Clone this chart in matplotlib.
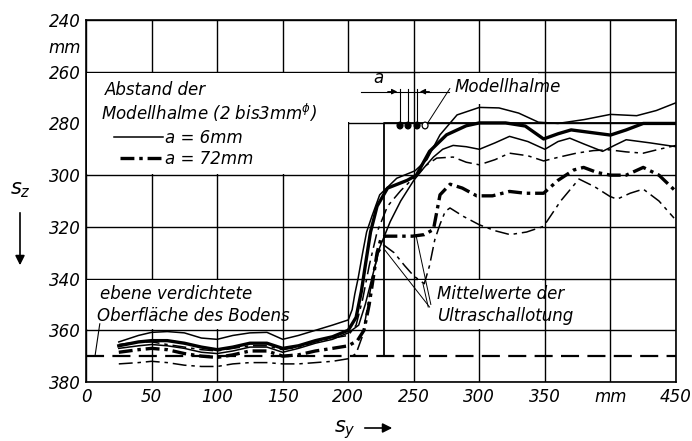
import matplotlib.pyplot as plt
from matplotlib.patches import Rectangle, Ellipse

plt.rcParams['font.family'] = ['DejaVu Sans']
plt.rcParams['font.style'] = 'italic'
plt.rcParams['lines.scale_dashes'] = False

# ---- data (mm) ----
x_ticks = [0, 50, 100, 150, 200, 250, 300, 350, 400, 450]
x_tick_labels = ['0', '50', '100', '150', '200', '250', '300', '350', 'mm', '450']
y_ticks = [240, 260, 280, 300, 320, 340, 360, 380]

# a = 6 mm, thin solid (top)
c1_x = [25, 40, 50, 62, 75, 88, 100, 112, 125, 138, 150, 162, 175, 188, 200, 203, 205, 207.5, 211, 214,
        218, 224, 237, 251, 260, 270, 283, 300, 315, 330, 345, 360, 380, 400, 420, 435, 450]
c1_y = [364.5, 362, 360.8, 360.5, 361, 363, 363.5, 362, 361, 360.8, 363.5, 362, 360, 358, 356, 352, 346, 340, 330, 322,
        316, 307.6, 301.2, 298.3, 294, 284.4, 276.7, 273.8, 274, 276, 279.5, 280, 278.5, 276.5, 277, 275, 272]

# thick solid
c2_x = [25, 40, 50, 62, 75, 88, 100, 112, 125, 138, 150, 162, 175, 188, 200, 206, 210, 213, 217, 222,
        230, 245, 252, 262, 275, 290, 300, 320, 335, 349, 360, 370, 385, 400, 412, 425, 450]
c2_y = [366, 364.5, 364, 364, 365, 366.5, 367.5, 366.5, 365, 365, 367, 366, 364, 362.5, 360, 355, 345, 335, 322, 312,
        305, 302, 300, 290.8, 284.4, 280.9, 279.8, 279.8, 281, 286, 284, 282.5, 283.5, 284.5, 282.5, 280, 280]

# thin solid
c3_x = [25, 40, 50, 62, 75, 88, 100, 112, 125, 138, 150, 162, 175, 188, 200, 208, 213, 218, 224, 232,
        240, 250, 258, 265, 272, 280, 290, 300, 312, 323, 337, 350, 360, 369, 380, 394, 403, 412, 430, 450]
c3_y = [367, 366, 365.5, 366, 367, 368.5, 369, 368, 366.5, 366.5, 368.5, 367, 365, 363.5, 361, 358, 350, 340, 328, 318,
        310, 302, 297, 293, 290, 288.5, 289, 290, 287.5, 285, 287, 290, 287, 285.7, 288, 290.8, 288.5, 286.3, 287.5, 289]

# thin dash-dot
c4_x = [25, 40, 50, 62, 75, 88, 100, 112, 125, 138, 150, 162, 175, 188, 200, 206, 211, 216, 222, 230,
        240, 252, 260, 267.5, 280, 290, 300, 312, 323, 337, 349, 361, 374, 387, 399, 412, 425, 437, 450]
c4_y = [365.5, 364.5, 364.5, 365.5, 366.5, 367.5, 368, 367, 366, 366, 367.5, 366.5, 364.5, 363, 362, 358, 348, 335, 322, 312,
        306, 300, 296, 293.4, 293, 295, 296, 294, 291.5, 292.5, 294.5, 293, 291.5, 290.5, 290.2, 291, 291.5, 290, 288.5]

# a = 72 mm, thick dash-dot
c5_x = [25, 40, 50, 62, 75, 88, 100, 112, 125, 138, 150, 162, 175, 188, 200, 207, 212, 216, 219, 222, 225,
        228, 249, 258, 265, 270, 277.7, 287, 298, 310, 323, 335, 349, 360, 372, 379.5, 390, 400, 412, 425, 437, 448.5]
c5_y = [368.5, 367.5, 367, 367.5, 369, 370, 370.5, 369.5, 368, 368, 370, 369.5, 368, 367, 366, 364, 360, 350, 340, 330, 324.5,
        323.6, 323.6, 323, 321, 307.6, 303.5, 305, 308, 308, 306.3, 307, 307, 302, 298, 297, 299, 300, 300, 297, 300, 305.6]

# thin dash-dot (bottom)
c6_x = [25, 40, 50, 62, 75, 88, 100, 112, 125, 138, 150, 162, 175, 188, 200, 206, 211, 215, 219, 223, 227,
        235, 243, 250, 258, 262, 266, 270, 274, 277.6, 288, 300, 312, 323.4, 336, 349, 362, 376, 388, 399.5,
        405, 415, 425, 437, 448.5]
c6_y = [373, 372.5, 372, 372.5, 373.5, 374, 374, 373, 372.5, 372.5, 373, 373, 372.5, 372, 371, 369, 362, 350, 338, 330, 327,
        330, 335, 339, 342, 335, 325, 319, 314, 312.7, 316, 319.2, 321.5, 323, 322, 319.8, 310, 301.5, 304.5, 308.2,
        309.3, 307, 305.4, 310, 316.6]

soil_level = 370
step_x = 227
stalk_top = 280
stalk_x = [239.5, 245.6, 252.5, 258.6]

thin = 1.1
thick = 2.4
dashdot = (0, (10, 3.5, 2.5, 3.5))

fig = plt.figure(figsize=(6.92, 4.41), dpi=100)
ax = fig.add_axes([0.1243, 0.1338, 0.8526, 0.8208])
ax.set_xlim(0, 450)
ax.set_ylim(380, 240)

ax.set_xticks(x_ticks)
ax.set_xticklabels(x_tick_labels)
ax.set_yticks(y_ticks)
ax.set_yticks([250], minor=True)
ax.set_yticklabels(['mm'], minor=True)
ax.tick_params(which='both', length=0, labelsize=12, pad=4)
ax.grid(True, which='major', color='black', lw=1.0, zorder=0.5)
ax.set_axisbelow(True)
for s in ax.spines.values():
    s.set_linewidth(1.2)

# white areas behind the labels (grid left out there)
for (x0, y0, w, h) in [(1, 260.6, 198.5, 38.8), (199, 260.6, 2, 19), (1, 340.6, 148.5, 18.8),
                       (253, 340.6, 95, 18.8), (255, 260.6, 90, 12)]:
    ax.add_patch(Rectangle((x0, y0), w, h, facecolor='white', edgecolor='none', zorder=0.8))

# curves
ax.plot(c1_x, c1_y, color='black', lw=thin, zorder=2)
ax.plot(c2_x, c2_y, color='black', lw=thick, zorder=2)
ax.plot(c3_x, c3_y, color='black', lw=thin, zorder=2)
ax.plot(c4_x, c4_y, color='black', lw=thin, ls=dashdot, zorder=2)
ax.plot(c5_x, c5_y, color='black', lw=thick, ls=dashdot, zorder=2)
ax.plot(c6_x, c6_y, color='black', lw=thin, ls=dashdot, zorder=2)

# soil surface and model step
ax.plot([0, 450], [soil_level, soil_level], color='black', lw=1.6, ls=(0, (13, 6)), zorder=2)
ax.plot([step_x, step_x, 450], [soil_level, stalk_top, stalk_top], color='black', lw=1.3, zorder=2)

# model stalks
for i, sx in enumerate(stalk_x):
    ax.add_patch(Ellipse((sx, stalk_top + 0.8), 4.5, 2.6, facecolor='black' if i < 3 else 'white',
                         edgecolor='black', lw=0.9, zorder=3))
for sx in stalk_x[:3]:
    ax.plot([sx, sx], [266.5, stalk_top], color='black', lw=0.8, zorder=2)
ax.plot([210, 277], [267.7, 267.7], color='black', lw=0.8)
ax.annotate('', xy=(239.5, 267.7), xytext=(228, 267.7),
            arrowprops=dict(arrowstyle='-|>', color='black', lw=0.8, mutation_scale=8))
ax.annotate('', xy=(252.5, 267.7), xytext=(264, 267.7),
            arrowprops=dict(arrowstyle='-|>', color='black', lw=0.8, mutation_scale=8))
ax.text(223, 266, 'a', fontsize=12, ha='center', va='bottom')
ax.plot([277.5, 261], [266.5, 279.5], color='black', lw=0.7)
ax.text(281, 268, 'Modellhalme', fontsize=12, va='baseline')

# legend block
ax.text(14.5, 269, 'Abstand der', fontsize=12, va='baseline')
ax.text(11.5, 278.6, r'Modellhalme (2 bis3mm$^{\phi}$)', fontsize=12, va='baseline')
ax.plot([21, 59], [285.2, 285.2], color='black', lw=thin)
ax.text(60, 287.5, 'a = 6mm', fontsize=12, va='baseline')
ax.plot([26, 59], [293.3, 293.3], color='black', lw=thick, ls=dashdot)
ax.text(60, 295.8, 'a = 72mm', fontsize=12, va='baseline')

# soil label
ax.text(10.7, 348, 'ebene verdichtete', fontsize=12, va='baseline')
ax.text(8.4, 356.5, 'Oberfläche des Bodens', fontsize=12, va='baseline')
ax.plot([10.5, 7], [357.5, 369.5], color='black', lw=0.8)

# ultrasonic label
ax.text(267.5, 348, 'Mittelwerte der', fontsize=12, va='baseline')
ax.text(267.5, 356.5, 'Ultraschallotung', fontsize=12, va='baseline')
ax.plot([262, 228], [351, 329], color='black', lw=0.7)
ax.plot([263, 252], [350, 324], color='black', lw=0.7)
ax.plot([261, 257], [351, 342], color='black', lw=0.7)

# axis names with arrows
fig.text(20 / 692, 1 - 190 / 441, r'$s_z$', fontsize=15, ha='center', va='center')
fig.add_artist(plt.matplotlib.patches.FancyArrowPatch(
    (20 / 692, 1 - 210 / 441), (20 / 692, 1 - 268 / 441), transform=fig.transFigure,
    arrowstyle='-|>', mutation_scale=14, color='black', lw=1.2))
fig.text(345 / 692, 1 - 430 / 441, r'$s_y$', fontsize=15, ha='center', va='center')
fig.add_artist(plt.matplotlib.patches.FancyArrowPatch(
    (362 / 692, 1 - 428 / 441), (395 / 692, 1 - 428 / 441), transform=fig.transFigure,
    arrowstyle='-|>', mutation_scale=14, color='black', lw=1.2))

fig.savefig('out.png', dpi=100)
